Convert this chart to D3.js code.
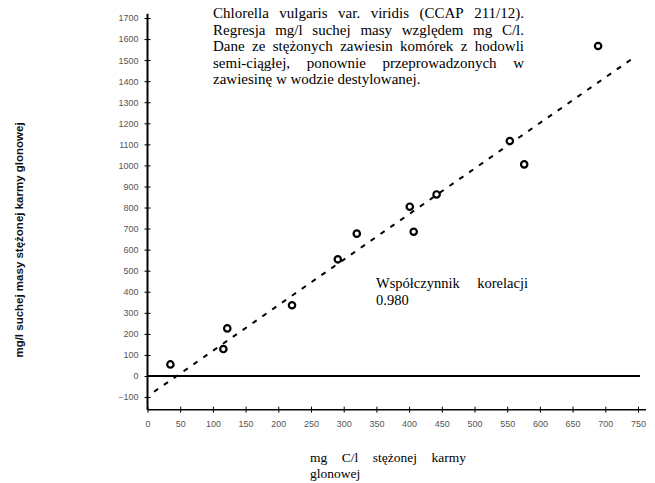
<!DOCTYPE html>
<html><head><meta charset="utf-8">
<script src="https://cdn.jsdelivr.net/npm/d3@7"></script>
<style>body{margin:0;background:#fff}svg{display:block}</style>
</head><body>
<svg id="c" width="655" height="483"></svg>
<script>
const xValues = [35, 116, 122, 221, 291, 320, 401, 407, 442, 554, 576, 689];
const yValues = [55, 128, 226, 336, 554, 676, 804, 685, 862, 1116, 1005, 1567];
const fitLine = [[10, -75], [745, 1515]];
const xTicks = [0,50,100,150,200,250,300,350,400,450,500,550,600,650,700,750];
const yTicks = [-100,0,100,200,300,400,500,600,700,800,900,1000,1100,1200,1300,1400,1500,1600,1700];
const titleLines = [
  "Chlorella vulgaris var. viridis (CCAP 211/12).",
  "Regresja mg/l suchej masy względem mg C/l.",
  "Dane ze stężonych zawiesin komórek z hodowli",
  "semi-ciągłej, ponownie przeprowadzonych w",
  "zawiesinę w wodzie destylowanej."
];
const corrLabel = ["Współczynnik korelacji", "0.980"];
const yLabel = "mg/l suchej masy stężonej karmy glonowej";
const xLabel = ["mg C/l stężonej karmy", "glonowej"];

const svg = d3.select("#c");
const x = d3.scaleLinear().domain([0, 750]).range([147.5, 638]);
const y = d3.scaleLinear().domain([0, 1700]).range([376, 18]);
const yBottom = -160, yTop = 1720;

// axes lines
svg.append("line").attr("x1", x(0)).attr("x2", x(0)).attr("y1", y(yTop)).attr("y2", y(yBottom))
  .attr("stroke", "#000").attr("stroke-width", 2);
svg.append("line").attr("x1", x(0)).attr("x2", 646).attr("y1", y(yBottom)).attr("y2", y(yBottom))
  .attr("stroke", "#000").attr("stroke-width", 1.6);
svg.append("line").attr("x1", x(0)).attr("x2", 640).attr("y1", y(0)).attr("y2", y(0))
  .attr("stroke", "#000").attr("stroke-width", 2);

// y axis ticks
const yAxis = d3.axisLeft(y).tickValues(yTicks).tickSize(3).tickPadding(6).tickFormat(d3.format("d"));
const gy = svg.append("g").attr("transform", `translate(${x(0)},0)`).call(yAxis);
gy.select(".domain").remove();
gy.selectAll(".tick line").clone().attr("x2", 3);
gy.selectAll(".tick text").attr("font-family", "Liberation Sans, Arial, sans-serif").attr("font-size", 9).attr("fill", "#555");

// x axis ticks
const xAxis = d3.axisBottom(x).tickValues(xTicks).tickSize(3).tickPadding(8).tickFormat(d3.format("d"));
const gx = svg.append("g").attr("transform", `translate(0,${y(yBottom)})`).call(xAxis);
gx.select(".domain").remove();
gx.selectAll(".tick line").clone().attr("y2", -3);
gx.selectAll(".tick text").attr("font-family", "Liberation Sans, Arial, sans-serif").attr("font-size", 9).attr("fill", "#555");

// regression line
svg.append("line")
  .attr("x1", x(fitLine[0][0])).attr("y1", y(fitLine[0][1]))
  .attr("x2", x(fitLine[1][0])).attr("y2", y(fitLine[1][1]))
  .attr("stroke", "#000").attr("stroke-width", 2).attr("stroke-dasharray", "5,7");

// points
svg.append("g").selectAll("circle").data(xValues.map((v, i) => [v, yValues[i]]))
  .join("circle")
  .attr("cx", d => x(d[0])).attr("cy", d => y(d[1])).attr("r", 3.2)
  .attr("fill", "#fff").attr("stroke", "#000").attr("stroke-width", 2.2);

// justified text helper
const serif = "Liberation Serif, Times New Roman, serif";
function textLine(str, x0, x1, yy, size, justify) {
  const words = str.split(" ");
  if (!justify || words.length < 2) {
    svg.append("text").attr("x", x0).attr("y", yy).attr("font-family", serif).attr("font-size", size).text(str);
    return;
  }
  const nodes = words.map(w => svg.append("text").attr("y", yy).attr("font-family", serif).attr("font-size", size).text(w));
  const widths = nodes.map(n => n.node().getComputedTextLength());
  const total = d3.sum(widths);
  const gap = (x1 - x0 - total) / (words.length - 1);
  let cx = x0;
  nodes.forEach((n, i) => { n.attr("x", cx); cx += widths[i] + gap; });
}

const tSize = 15;
titleLines.forEach((l, i) => textLine(l, 213, 524, 18 + i * 16.5, tSize, i < titleLines.length - 1));

textLine(corrLabel[0], 376, 528, 288, 14.5, true);
textLine(corrLabel[1], 376, 528, 305, 14.5, false);

textLine(xLabel[0], 310, 466, 462, 13.5, true);
textLine(xLabel[1], 310, 466, 478, 13.5, false);

svg.append("text")
  .attr("transform", "translate(23,240) rotate(-90)")
  .attr("text-anchor", "middle")
  .attr("font-family", "Liberation Sans, Arial, sans-serif")
  .attr("font-size", 11.5).attr("font-weight", "bold").attr("fill", "#111")
  .text(yLabel);
</script>
</body></html>
